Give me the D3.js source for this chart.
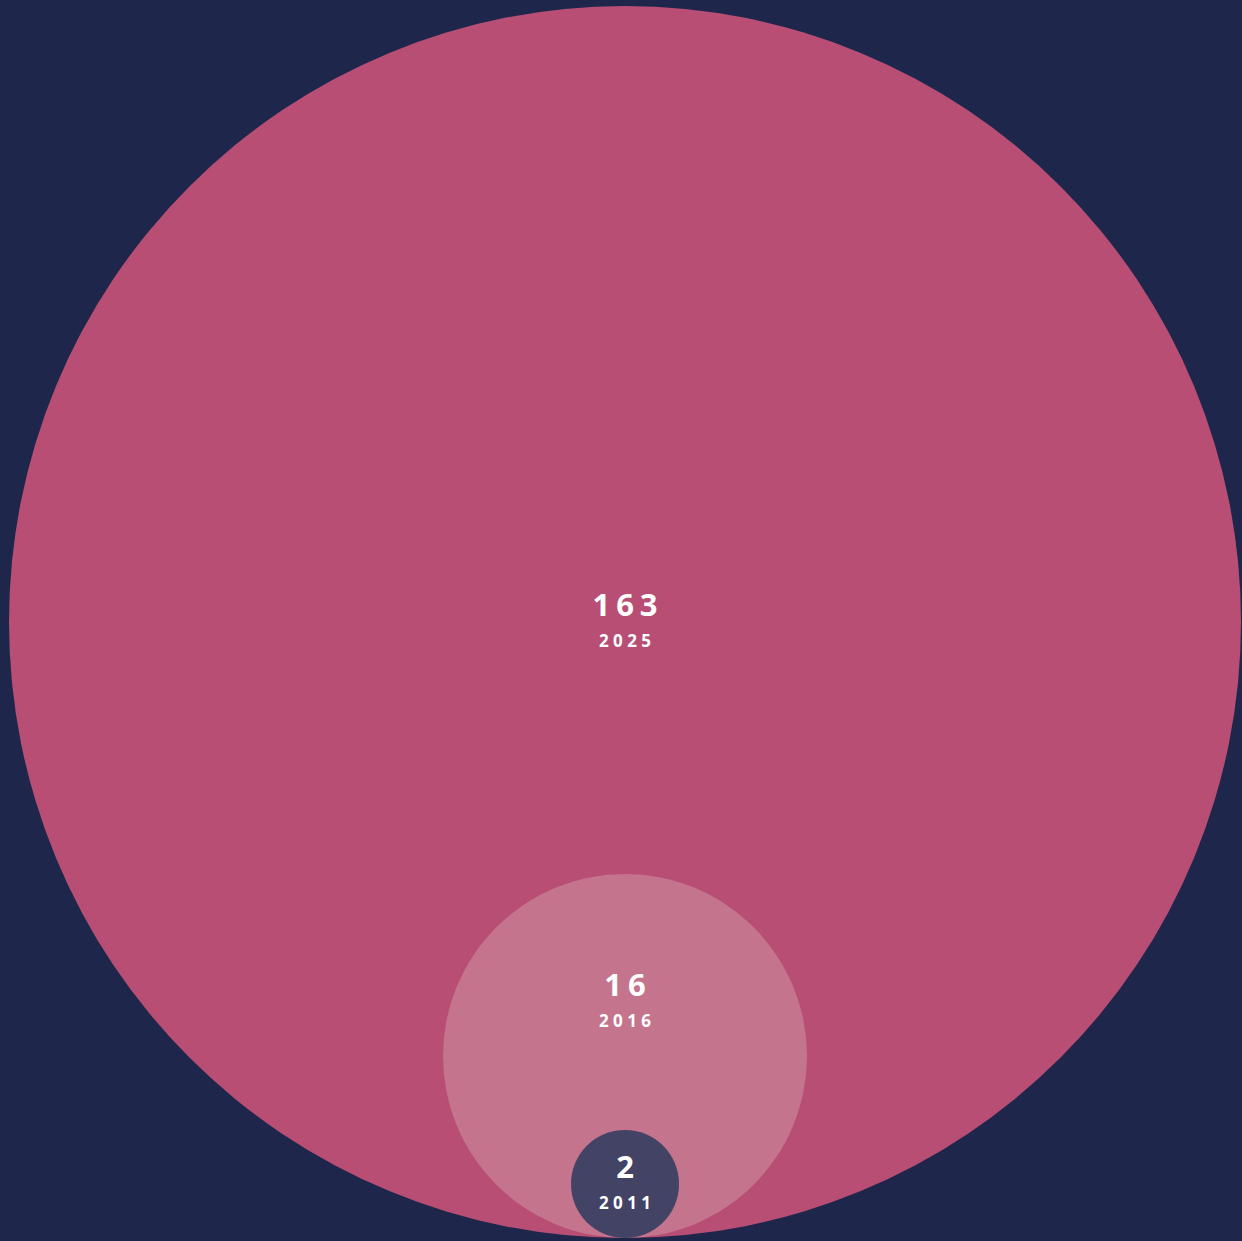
<!DOCTYPE html>
<html>
<head>
<meta charset="utf-8">
<script src="https://cdn.jsdelivr.net/npm/d3@7"></script>
<style>
  html, body { margin: 0; padding: 0; background: #1e264c; }
  svg { display: block; }
</style>
</head>
<body>
<svg width="1242" height="1241"></svg>
<script>
const years = ["2011", "2016", "2025"];
const values = [2, 16, 163];
const fills = ["#434366", "#c4748c", "#b84e74"];

const svg = d3.select("svg");
const width = +svg.attr("width");
const height = +svg.attr("height");

// all circles sit on the same bottom point
const cx = 625;
const baseY = 1238;

const data = years.map((y, i) => ({ year: y, value: values[i], fill: fills[i] }))
  .sort((a, b) => b.value - a.value);

const rScale = d3.scaleSqrt()
  .domain(d3.extent(values))
  .range([54, 616]);

data.forEach(d => {
  d.r = rScale(d.value);
  d.cy = baseY - d.r;
  d.top = baseY - 2 * d.r;
});

// label goes to the middle of the free area when the inner circle is close to the centre
data.forEach((d, i) => {
  const child = data[i + 1];
  d.labelY = child && child.top - d.cy < 120 ? (d.top + child.top) / 2 : d.cy;
});

svg.append("rect")
  .attr("width", width)
  .attr("height", height)
  .attr("fill", "#1e264c");

const g = svg.append("g");

g.selectAll("circle")
  .data(data)
  .join("circle")
  .attr("cx", cx)
  .attr("cy", d => d.cy)
  .attr("r", d => d.r)
  .attr("fill", d => d.fill);

const labels = g.selectAll("g.label")
  .data(data)
  .join("g")
  .attr("class", "label")
  .attr("transform", d => `translate(${cx},${d.labelY})`)
  .attr("font-family", "'Open Sans', sans-serif")
  .attr("font-weight", "bold")
  .attr("fill", "#fff")
  .attr("text-anchor", "middle");

labels.append("text")
  .attr("y", -6)
  .attr("dx", 3)
  .attr("font-size", 31)
  .attr("letter-spacing", 6)
  .text(d => d.value);

labels.append("text")
  .attr("y", 25)
  .attr("dx", 2.2)
  .attr("font-size", 17)
  .attr("letter-spacing", 4.4)
  .text(d => d.year);
</script>
</body>
</html>
